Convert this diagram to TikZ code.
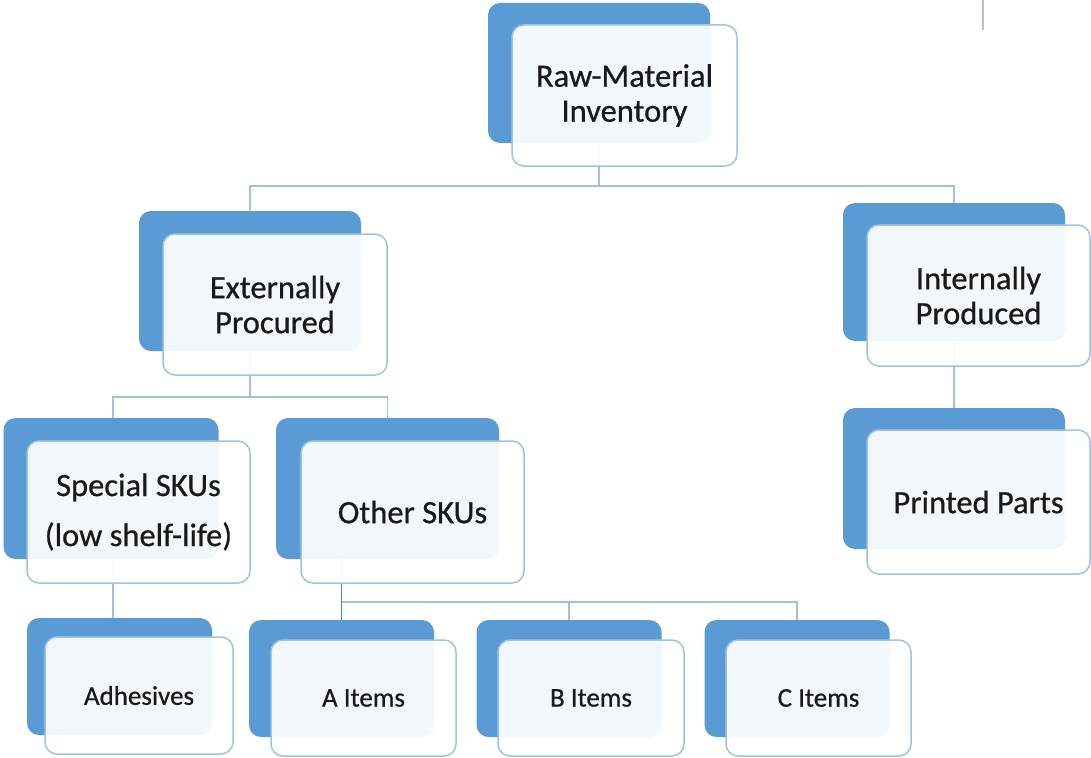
\documentclass[tikz,border=0pt]{standalone}
\usepackage{fontspec}
\setmainfont[FakeBold=0.6]{Carlito}
\newfontfamily\boxfont[FakeBold=0.6]{Carlito}
\definecolor{accent}{HTML}{5B9BD5}
\definecolor{rim}{HTML}{9DC3E6}
\definecolor{wire}{HTML}{A2BFE0}
\definecolor{wiredark}{HTML}{2E8BD0}
\begin{document}
\begin{tikzpicture}[x=1pt,y=-1pt,
  back/.style={draw=none, fill=accent, rounded corners=12pt, inner sep=0pt},
  front/.style={draw=rim, line width=1.5pt, fill=white, fill opacity=0.92, text opacity=1,
    rounded corners=12pt, inner sep=0pt, align=center, text=black!90},
  big/.style={font=\boxfont\fontsize{32.5}{35}\selectfont},
  small/.style={font=\boxfont\fontsize{27}{30}\selectfont},
  wireline/.style={draw=wire, line width=1.6pt}]
\useasboundingbox (0,0) rectangle (1091,757);
\fill[white] (0,0) rectangle (1091,757);
\draw[black!25, line width=1.5pt] (983,0) -- (983,30);

% back boxes
\node[back, minimum width=222pt, minimum height=140pt] (rootB) at (599,73) {};
\node[back, minimum width=222pt, minimum height=140pt] (extB) at (250,281) {};
\node[back, minimum width=222pt, minimum height=138pt] (intB) at (954,272) {};
\node[back, minimum width=222pt, minimum height=141pt] (prtB) at (954,478.5) {};
\node[back, minimum width=215pt, minimum height=141pt] (spcB) at (111,488.5) {};
\node[back, minimum width=223pt, minimum height=141pt] (othB) at (387.5,488.5) {};
\node[back, minimum width=185pt, minimum height=117pt] (adhB) at (119.5,676.5) {};
\node[back, minimum width=185pt, minimum height=117pt] (aB) at (341.5,678.5) {};
\node[back, minimum width=185pt, minimum height=117pt] (bB) at (569,678.5) {};
\node[back, minimum width=185pt, minimum height=117pt] (cB) at (797,678.5) {};

% bus coordinates
\coordinate (bus1) at (599,186);
\coordinate (bus2) at (250,397);
\coordinate (bus3) at (569,602);

% connectors
\draw[wireline] (rootB.south) -- (bus1);
\draw[wireline] (extB.north) |- (bus1) -| (intB.north);
\draw[wireline] (extB.south) -- (bus2);
\draw[wireline] ([xshift=2pt]spcB.north) |- (bus2) -| (othB.north);
\draw[wireline] (intB.south) -- (prtB.north);
\draw[wireline] ([xshift=2pt]spcB.south) -- ([xshift=2pt]spcB.south |- adhB.north);
\draw[wireline] (aB.north) |- (bus3) -| (cB.north);
\draw[wireline] (bB.north) -- (bus3);
\draw[draw=wiredark, line width=1.2pt] (aB.north) -- (aB.north |- othB.south) -- ++(0,24);

% front boxes
\node[front, big, minimum width=225pt, minimum height=141pt] (root) at (624.5,95.5) {Raw-Material\\Inventory};
\node[front, big, minimum width=224pt, minimum height=141pt] (ext) at (275,304.5) {Externally\\Procured};
\node[front, big, minimum width=223pt, minimum height=141pt] (int) at (978.5,295.5) {Internally\\Produced};
\node[front, big, minimum width=223pt, minimum height=144pt] (prt) at (978.5,502) {Printed Parts};
\node[front, minimum width=223pt, minimum height=142pt, font=\boxfont\fontsize{32.5}{50}\selectfont] (spc) at (138.5,512) {Special SKUs\\(low shelf-life)};
\node[front, big, minimum width=223pt, minimum height=142pt] (oth) at (412.5,512) {Other SKUs};
\node[front, small, minimum width=188pt, minimum height=117pt] (adh) at (139,695.5) {Adhesives};
\node[front, small, minimum width=185pt, minimum height=116pt] (a) at (363.5,698) {A Items};
\node[front, small, minimum width=186pt, minimum height=116pt] (b) at (591,698) {B Items};
\node[front, small, minimum width=185pt, minimum height=116pt] (c) at (818.5,698) {C Items};
\end{tikzpicture}
\end{document}
